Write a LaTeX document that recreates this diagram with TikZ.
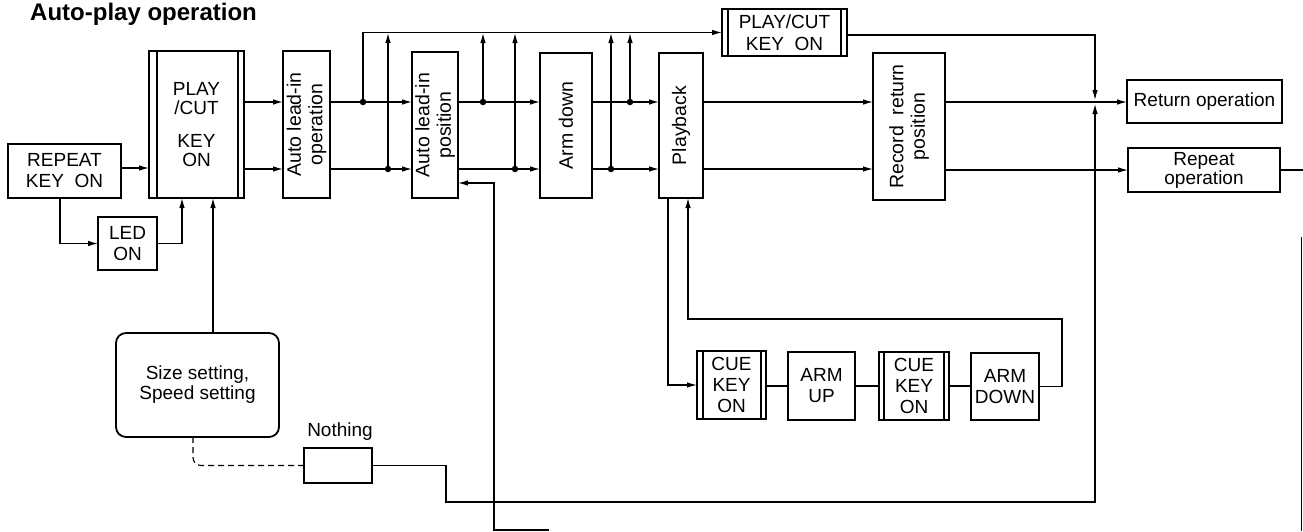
\documentclass[tikz,border=0pt]{standalone}
\usepackage{fontspec}
\setmainfont{Liberation Sans}
\usetikzlibrary{arrows.meta}
\begin{document}
\begin{tikzpicture}[x=1pt,y=-1pt,
  box/.style={draw, line width=1.8pt, rectangle, inner sep=0pt, outer sep=0pt, font=\fontsize{19}{21}\selectfont, align=center},
  rbox/.style={box, rounded corners=10pt},
  vtext/.style={rotate=90, font=\fontsize{19.5}{21.5}\selectfont, align=center, inner sep=0pt},
  conn/.style={line width=1.1pt},
  arr/.style={conn, -{Latex[length=10pt,width=5.5pt]}},
  innerline/.style={line width=1.1pt},
  dot/.style={circle, fill, inner sep=0pt, minimum size=6.5pt},
  lbl/.style={font=\fontsize{19}{21}\selectfont, inner sep=0pt}
]
\useasboundingbox (0,0) rectangle (1303,531);
\clip (0,0) rectangle (1303,531);
\fill[white] (0,0) rectangle (1303,531);

% title
\node[font=\bfseries\fontsize{24}{28}\selectfont, anchor=base west, inner sep=0pt] (title) at (30,20) {Auto-play operation};

% boxes
\node[box, minimum width=113pt, minimum height=54pt] (repeat) at (64.5,171) {REPEAT\\KEY\ \ ON};
\node[box, minimum width=95pt, minimum height=147pt, font=\fontsize{19}{19.5}\selectfont] (playcut) at (196.5,124.5) {PLAY\\/CUT\\[13pt]KEY\\ON};
\draw[innerline] ([xshift=8pt]playcut.north west) -- ([xshift=8pt]playcut.south west);
\draw[innerline] ([xshift=-6pt]playcut.north east) -- ([xshift=-6pt]playcut.south east);
\node[box, minimum width=59pt, minimum height=53pt] (led) at (127.5,243.5) {LED\\ON};
\node[rbox, minimum width=163pt, minimum height=104pt, font=\fontsize{19}{20}\selectfont] (setting) at (197.5,385) {Size setting,\\Speed setting};
\node[box, minimum width=68pt, minimum height=35pt] (nothing) at (338,465.5) {};
\node[lbl] (nothinglbl) at (340,432) {Nothing};

\node[box, minimum width=47pt, minimum height=147pt] (alo) at (306.5,124.5) {};
\node[vtext] (alotxt) at (alo.center) {Auto lead-in\\operation};
\node[box, minimum width=46pt, minimum height=146pt] (alp) at (435,125) {};
\node[vtext] (alptxt) at (alp.center) {Auto lead-in\\position};
\node[box, minimum width=52pt, minimum height=145pt] (arm) at (566,125.5) {};
\node[vtext] (armtxt) at (arm.center) {Arm down};
\node[box, minimum width=44pt, minimum height=145pt] (play) at (681,125.5) {};
\node[vtext] (playtxt) at (play.center) {Playback};
\node[box, minimum width=72pt, minimum height=147pt] (rec) at (909,126.5) {};
\node[vtext] (rectxt) at (rec.center) {Record\ \ return\\position};

\node[box, minimum width=125pt, minimum height=47pt, font=\fontsize{19}{22}\selectfont] (pctop) at (784.5,32.5) {PLAY/CUT\\KEY\ \ ON};
\draw[innerline] ([xshift=6pt]pctop.north west) -- ([xshift=6pt]pctop.south west);
\draw[innerline] ([xshift=-6pt]pctop.north east) -- ([xshift=-6pt]pctop.south east);

\node[box, minimum width=155pt, minimum height=43pt] (ret) at (1204.5,101.5) {Return operation};
\node[box, minimum width=152pt, minimum height=44pt, font=\fontsize{19}{19}\selectfont] (rep) at (1204,170) {Repeat\\operation};

\node[box, minimum width=69pt, minimum height=68pt] (cue1) at (731.5,385) {CUE\\KEY\\ON};
\draw[innerline] ([xshift=6pt]cue1.north west) -- ([xshift=6pt]cue1.south west);
\draw[innerline] ([xshift=-5pt]cue1.north east) -- ([xshift=-5pt]cue1.south east);
\node[box, minimum width=67pt, minimum height=68pt] (armup) at (821.5,386) {ARM\\UP};
\node[box, minimum width=70pt, minimum height=68pt] (cue2) at (914,386) {CUE\\KEY\\ON};
\draw[innerline] ([xshift=5pt]cue2.north west) -- ([xshift=5pt]cue2.south west);
\draw[innerline] ([xshift=-5pt]cue2.north east) -- ([xshift=-5pt]cue2.south east);
\node[box, minimum width=68pt, minimum height=67pt] (armdown) at (1005,386.5) {ARM\\DOWN};

% junctions
\coordinate (j1) at (363,102);
\coordinate (j2) at (388,169);
\coordinate (j3) at (483,102);
\coordinate (j4) at (515,169);
\coordinate (j5) at (611,169);
\coordinate (j6) at (630,102);
\coordinate (t2) at (388,33);
\coordinate (t3) at (483,33);
\coordinate (t4) at (515,33);
\coordinate (t5) at (611,33);
\coordinate (t6) at (630,33);
\coordinate (merge) at (1095,102);
\coordinate (n1) at (446,465.5);
\coordinate (n2) at (446,502);
\coordinate (fbs) at (549,530);
\coordinate (fbc) at (494,183);
\coordinate (c1) at (1062,386.5);
\coordinate (c2) at (1062,319);
\coordinate (c3) at (688,319);
\coordinate (edgeR) at (1303,170);
\coordinate (rv1) at (1301.5,237);
\coordinate (rv2) at (1301.5,531);

% left part
\draw[arr] (repeat.east |- 0,168) -- (playcut.west |- 0,168);
\draw[arr] (repeat.south -| 60,0) |- (led.west);
\draw[arr] (led.east) -| (playcut.south -| 182,0);
\draw[arr] (setting.north -| 213,0) -- (playcut.south -| 213,0);
\draw[conn, dash pattern=on 6pt off 4pt, rounded corners=8pt] (setting.south -| 193,0) |- (nothing.west);
\draw[arr, shorten >=2pt] (nothing.east) -- (n1) -- (n2) -| (merge);

% main flow
\foreach \a/\b in {playcut/alo, alo/alp, alp/arm, arm/play, play/rec}{
  \draw[arr] (\a.east |- 0,102) -- (\b.west |- 0,102);
  \draw[arr] (\a.east |- 0,169) -- (\b.west |- 0,169);
}
\draw[arr] (rec.east |- 0,102) -- (ret.west |- 0,102);
\draw[arr] (rec.east |- 0,170) -- (rep.west |- 0,170);
\draw[conn] (rep.east) -- (edgeR);
\draw[conn] (rv1) -- (rv2);

% top branch
\draw[arr] (j1) |- (pctop.west);
\draw[arr] (j2) -- (t2);
\draw[arr] (j3) -- (t3);
\draw[arr] (j4) -- (t4);
\draw[arr] (j5) -- (t5);
\draw[arr] (j6) -- (t6);
\draw[arr, shorten >=2pt] (pctop.east |- 0,35) -| (merge);

% feedback into auto lead-in position
\draw[arr] (fbs) -| (fbc) -- (alp.east |- fbc);

% cue loop
\draw[arr] (play.south -| 668,0) |- (cue1.west);
\draw[conn] (cue1.east |- 0,386) -- (armup.west |- 0,386);
\draw[conn] (armup.east |- 0,386) -- (cue2.west |- 0,386);
\draw[conn] (cue2.east |- 0,386) -- (armdown.west |- 0,386);
\draw[arr] (armdown.east) -- (c1) -- (c2) -- (c3) -- (play.south -| c3);

% dots
\foreach \j in {j1,j2,j3,j4,j5,j6}{ \node[dot] at (\j) {}; }
\end{tikzpicture}
\end{document}
